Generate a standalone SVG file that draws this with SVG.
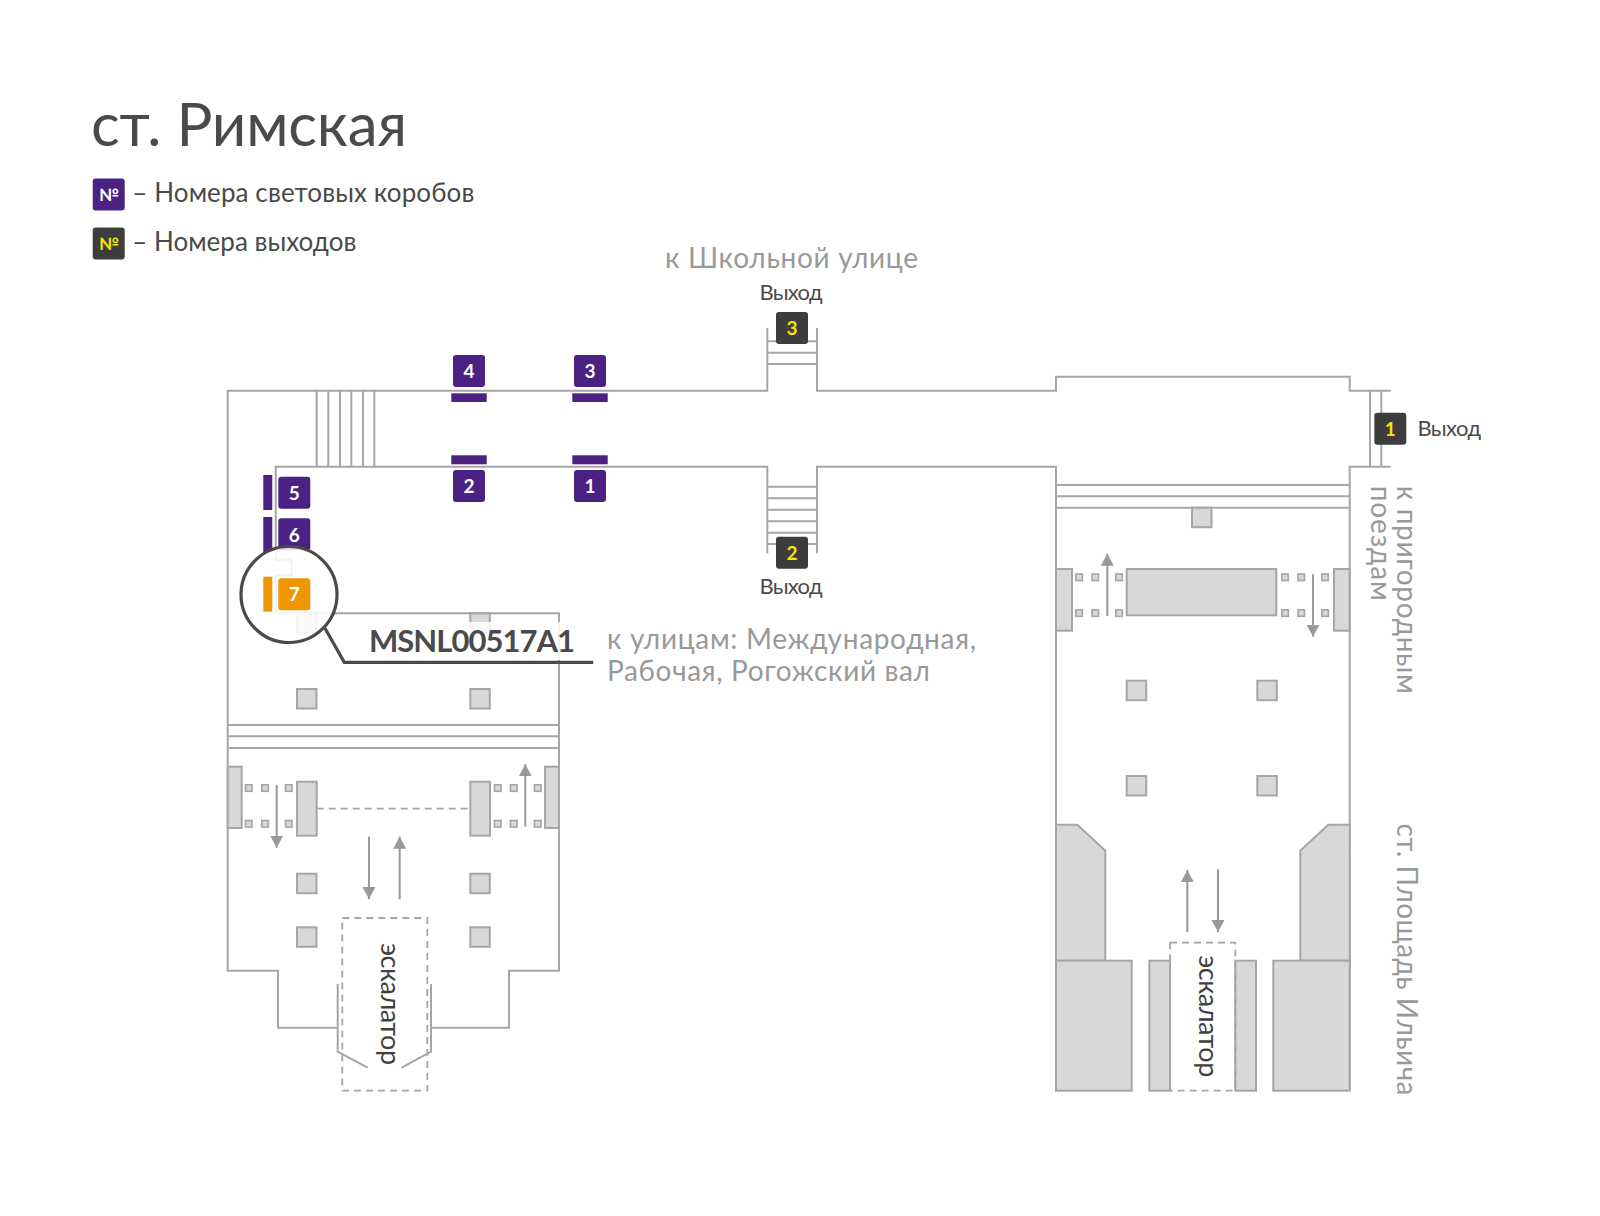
<svg xmlns="http://www.w3.org/2000/svg" width="1600" height="1216" viewBox="0 0 1600 1216">
<style>
text{font-family:"Lato","Noto Sans",sans-serif}
.w{fill:none;stroke:#a6a6a6;stroke-width:2}
.f{fill:#d8d8d8;stroke:#a6a6a6;stroke-width:2}
.s{fill:#d8d8d8;stroke:#a6a6a6;stroke-width:1.6}
.d{fill:none;stroke:#a6a6a6;stroke-width:1.8;stroke-dasharray:7 5}
.a{fill:none;stroke:#999;stroke-width:2;marker-end:url(#ah)}
.p{fill:#4b2283}.k{fill:#3d3d3d}.o{fill:#f09600}
.n{font-size:19px;font-weight:700;text-anchor:middle}
.wh{fill:#fff}.ye{fill:#f5e600}
.g{fill:#999;font-size:28px}
.t{fill:#4a4a4a}
</style>
<defs>
<marker id="ah" markerUnits="userSpaceOnUse" markerWidth="13" markerHeight="13" refX="12" refY="6.5" orient="auto"><path d="M0 0L12 6.5L0 13Z" fill="#999"/></marker>
<rect id="b" width="32" height="32" rx="3"/>
<rect id="sq" width="6.5" height="6.5" class="s"/>
<rect id="c" width="19.5" height="19.5" class="f"/>
</defs>
<rect width="1600" height="1216" fill="#fff"/>

<g id="plan-walls">
<path class="w" d="M767.3 328V390.7H227.7V970.7H278V1027.7H337.7M431 1027.7H509V970.7H559V613.3H275.7V575H291.7V560H275.7V466.7H767.3V553.3"/>
<path class="w" d="M817 328V390.7H1056V376.7H1349.7V390.7H1390.7M817 553.3V466.7H1056V1090M1390.7 466.7H1349.7V1090"/>
<path class="w" d="M316.7 390.7V466.7M328.3 390.7V466.7M340 390.7V466.7M351.3 390.7V466.7M363 390.7V466.7M374.3 390.7V466.7"/>
<path class="w" d="M767.3 341.3H817M767.3 352.7H817M767.3 364H817"/>
<path class="w" d="M767.3 486.7H817M767.3 498.3H817M767.3 509.7H817M767.3 521.3H817M767.3 532.7H817M767.3 544H817"/>
<path class="w" d="M1370 390.7V466.7M1381.3 390.7V466.7"/>
<path class="w" d="M1056 485H1349.7M1056 496.3H1349.7M1056 507.7H1349.7"/>
<path class="w" d="M227.7 725H559M227.7 736.3H559M227.7 748H559"/>
<path class="w" d="M337.7 984V1051.7L367.7 1067.7M431 984V1051.7L401.7 1067.7"/>
<path class="d" d="M316.7 808.7H470"/>
</g>

<g id="left-hall">
<use href="#c" x="297" y="613.3"/><use href="#c" x="470.3" y="613.3"/>
<use href="#c" x="297" y="689"/><use href="#c" x="470.3" y="689"/>
<use href="#c" x="297" y="873.7"/><use href="#c" x="470.3" y="873.7"/>
<use href="#c" x="297" y="927.3"/><use href="#c" x="470.3" y="927.3"/>
<rect class="f" x="227.7" y="766.7" width="14" height="61.3"/>
<rect class="f" x="545" y="766.7" width="14" height="61.3"/>
<rect class="f" x="297" y="781.7" width="19.7" height="54"/>
<rect class="f" x="470.3" y="781.7" width="19.7" height="54"/>
<use href="#sq" x="245.5" y="784.8"/><use href="#sq" x="261.8" y="784.8"/><use href="#sq" x="285.5" y="784.8"/>
<use href="#sq" x="245.5" y="820.5"/><use href="#sq" x="261.8" y="820.5"/><use href="#sq" x="285.5" y="820.5"/>
<use href="#sq" x="494.5" y="784.8"/><use href="#sq" x="510.5" y="784.8"/><use href="#sq" x="534.5" y="784.8"/>
<use href="#sq" x="494.5" y="820.5"/><use href="#sq" x="510.5" y="820.5"/><use href="#sq" x="534.5" y="820.5"/>
<rect class="d" x="342.3" y="918" width="85" height="172.7"/>
</g>

<g id="right-hall">
<use href="#c" x="1192" y="507.7"/>
<use href="#c" x="1126.7" y="680.7"/><use href="#c" x="1257.3" y="680.7"/>
<use href="#c" x="1126.7" y="776"/><use href="#c" x="1257.3" y="776"/>
<rect class="f" x="1056" y="569" width="16" height="61.7"/>
<rect class="f" x="1334" y="569" width="15.7" height="61.7"/>
<rect class="f" x="1126.7" y="569" width="149.6" height="46.3"/>
<use href="#sq" x="1075.8" y="574"/><use href="#sq" x="1092" y="574"/><use href="#sq" x="1115.8" y="574"/>
<use href="#sq" x="1075.8" y="609.8"/><use href="#sq" x="1092" y="609.8"/><use href="#sq" x="1115.8" y="609.8"/>
<use href="#sq" x="1281.8" y="574"/><use href="#sq" x="1298" y="574"/><use href="#sq" x="1321.8" y="574"/>
<use href="#sq" x="1281.8" y="609.8"/><use href="#sq" x="1298" y="609.8"/><use href="#sq" x="1321.8" y="609.8"/>
<path class="f" d="M1056 824.7H1077.3L1105.3 850.7V960.7H1056Z"/>
<path class="f" d="M1349.7 824.7H1328.3L1300.3 850.7V960.7H1349.7Z"/>
<rect class="f" x="1056" y="960.7" width="75.7" height="130"/>
<rect class="f" x="1149.3" y="960.7" width="20.7" height="130"/>
<rect class="f" x="1235.3" y="960.7" width="20.7" height="130"/>
<rect class="f" x="1273.3" y="960.7" width="76.4" height="130"/>
<rect class="d" x="1170" y="942.7" width="65.3" height="148"/>
</g>

<g id="connectors">
<path class="a" d="M276.7 785V847.7"/>
<path class="a" d="M525.3 826.7V764.3"/>
<path class="a" d="M369 836.7V899"/>
<path class="a" d="M399.7 899.3V836.7"/>
<path class="a" d="M1107.3 616V553.7"/>
<path class="a" d="M1313 574.3V636.7"/>
<path class="a" d="M1187.3 932V870"/>
<path class="a" d="M1218 869.3V932"/>
</g>

<g id="boxes">
<g id="box-4"><rect class="p" x="451.3" y="393.3" width="35.4" height="8.7"/><use href="#b" class="p" x="453" y="355"/><text class="n wh" x="469" y="378">4</text></g>
<g id="box-3"><rect class="p" x="572.3" y="393.3" width="35.4" height="8.7"/><use href="#b" class="p" x="574" y="355"/><text class="n wh" x="590" y="378">3</text></g>
<g id="box-2"><rect class="p" x="451.3" y="455.3" width="35.4" height="9"/><use href="#b" class="p" x="453" y="470"/><text class="n wh" x="469" y="493">2</text></g>
<g id="box-1"><rect class="p" x="572.3" y="455.3" width="35.4" height="9"/><use href="#b" class="p" x="574" y="470"/><text class="n wh" x="590" y="493">1</text></g>
<g id="box-5"><rect class="p" x="263.3" y="475" width="9" height="35"/><use href="#b" class="p" x="278.3" y="476.7"/><text class="n wh" x="294.3" y="499.7">5</text></g>
<g id="box-6"><rect class="p" x="263.3" y="517" width="9" height="35"/><use href="#b" class="p" x="278.3" y="518.3"/><text class="n wh" x="294.3" y="541.8">6</text></g>
</g>

<g id="highlight">
<circle cx="289" cy="594.5" r="48" fill="#fff" fill-opacity=".86" stroke="#4a4a4a" stroke-width="3.2"/>
<g id="box-7"><rect class="o" x="263.3" y="576.7" width="9" height="35"/><use href="#b" class="o" x="278.3" y="578.3"/><text class="n wh" x="294.3" y="601.3">7</text></g>
<rect x="345" y="622" width="245" height="38" fill="#fff" fill-opacity=".86"/>
<path d="M325 628.3L344.3 662.3H593.3" fill="none" stroke="#4a4a4a" stroke-width="3.2"/>
<text class="t" x="369" y="651.7" font-size="31" font-weight="700" textLength="206" lengthAdjust="spacing">MSNL00517A1</text>
</g>

<g id="exits">
<g id="exit-3"><use href="#b" class="k" x="776" y="312"/><text class="n ye" x="792" y="335">3</text><text class="t" x="759.5" y="300" font-size="22" textLength="63">Выход</text></g>
<g id="exit-2"><use href="#b" class="k" x="776" y="536.7"/><text class="n ye" x="792" y="559.7">2</text><text class="t" x="759.5" y="594.3" font-size="22" textLength="63">Выход</text></g>
<g id="exit-1"><use href="#b" class="k" x="1374.3" y="412.7"/><text class="n ye" x="1390.3" y="435.7">1</text><text class="t" x="1417.5" y="435.5" font-size="22" textLength="63.5">Выход</text></g>
</g>

<g id="legend">
<text class="t" x="91" y="145.5" font-size="60" textLength="316">ст. Римская</text>
<use href="#b" class="p" x="92.7" y="178.5"/><text class="wh" x="108.7" y="200.5" font-size="17" font-weight="700" text-anchor="middle">№</text>
<text class="t" x="132.3" y="201.5" font-size="26" textLength="342">– Номера световых коробов</text>
<use href="#b" class="k" x="92.7" y="227.5"/><text class="ye" x="108.7" y="249.5" font-size="17" font-weight="700" text-anchor="middle">№</text>
<text class="t" x="132.3" y="250.5" font-size="26" textLength="224">– Номера выходов</text>
</g>

<g id="labels">
<text class="g" x="665" y="267.5" textLength="253">к Школьной улице</text>
<text class="g" x="607" y="649" textLength="369">к улицам: Международная,</text>
<text class="g" x="607" y="681" textLength="323">Рабочая, Рогожский вал</text>
<text class="g" transform="translate(1397.3 485.7) rotate(90)" textLength="208">к пригородным</text>
<text class="g" transform="translate(1370.7 485.7) rotate(90)" textLength="115">поездам</text>
<text class="g" transform="translate(1397.3 823.5) rotate(90)" textLength="272">ст. Площадь Ильича</text>
<text fill="#3f3f3f" font-size="27" transform="translate(380.5 943) rotate(90)" textLength="122">эскалатор</text>
<text fill="#3f3f3f" font-size="27" transform="translate(1198.8 955.3) rotate(90)" textLength="122">эскалатор</text>
</g>
</svg>
